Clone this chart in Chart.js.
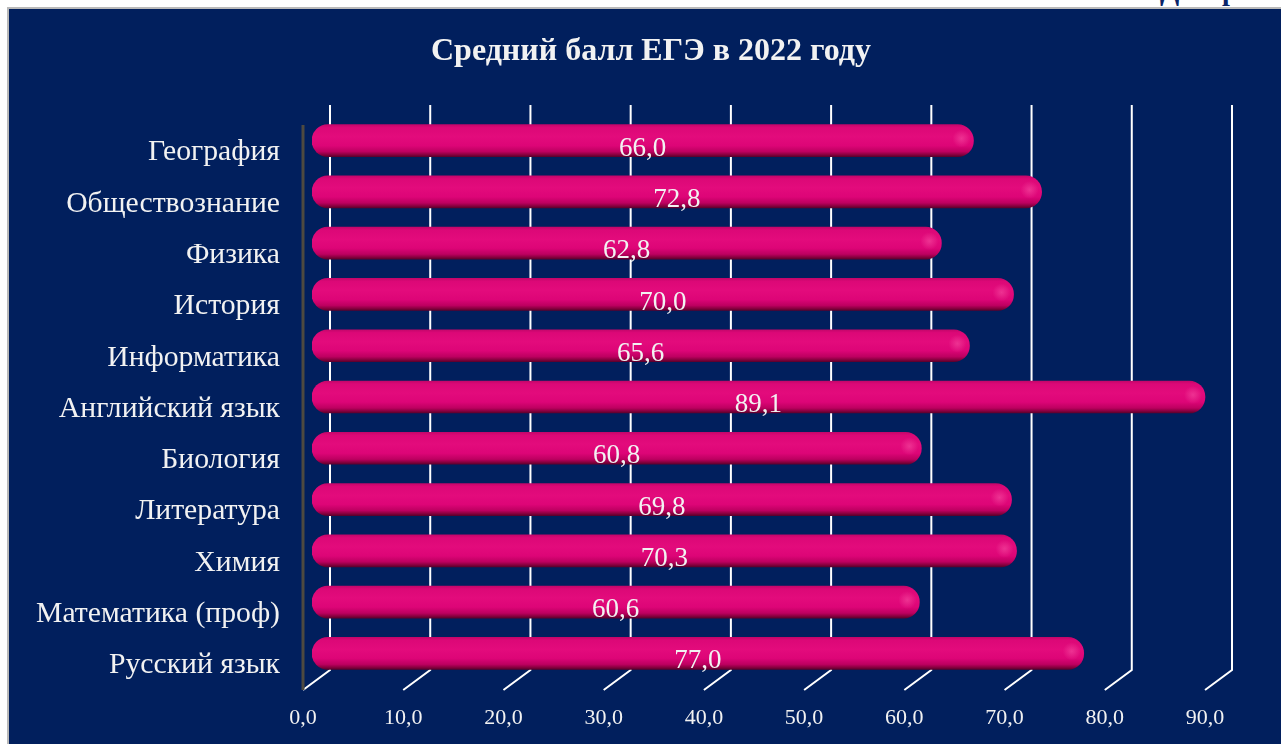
<!DOCTYPE html>
<html lang="ru">
<head>
<meta charset="utf-8">
<title>Средний балл ЕГЭ в 2022 году</title>
<script src="https://cdn.jsdelivr.net/npm/chart.js@4"></script>
<style>
  html, body { margin: 0; padding: 0; background: #fff; width: 1281px; height: 744px; overflow: hidden; }
  #caption { position: absolute; left: 1160px; top: -25px; line-height: 28px; font: bold 28px "Liberation Serif", serif; color: #0a2468; white-space: nowrap; }
  #panel { position: absolute; left: 7px; top: 7px; width: 1280px; height: 745px; background: #011f5d; border-top: 2px solid #b9b9b9; border-left: 2px solid #b9b9b9; }
  #title { position: absolute; left: 351px; width: 600px; top: 31px; text-align: center; font: bold 32px "Liberation Serif", serif; color: #f2f2f2; white-space: nowrap; }
  #chart { position: absolute; left: 0; top: 0; }
</style>
</head>
<body>
<div id="caption">Диаграмма</div>
<div id="panel"></div>
<canvas id="chart" width="1281" height="744"></canvas>
<div id="title">Средний балл ЕГЭ в 2022 году</div>
<script>
// Subjects, top to bottom
const subjects = ['География', 'Обществознание', 'Физика', 'История', 'Информатика',
    'Английский язык', 'Биология', 'Литература', 'Химия', 'Математика (проф)', 'Русский язык'];
// Average score per subject
const scores = [66.0, 72.8, 62.8, 70.0, 65.6, 89.1, 60.8, 69.8, 70.3, 60.6, 77.0];
// Axis range
const axisMin = 0;
const axisMax = 90;
const axisStep = 10;

const serif = '"Liberation Serif", "Times New Roman", serif';
const textColor = '#f2f2f2';

// 3d offsets of the back wall relative to the bar plane
const frontShift = -9;
const backShift = 18;
const floorBack = 670;
const floorFront = 690;
const gridTop = 105;

const fmt = v => Number(v).toFixed(1).replace('.', ',');

// cylinder shading, one band per bar
function barGradient(context) {
    const chart = context.chart;
    const area = chart.chartArea;
    const yScale = chart.scales.y;
    if (!area || !yScale) return '#e0067a';
    const g = chart.ctx.createLinearGradient(0, area.top, 0, area.bottom);
    const h = area.bottom - area.top;
    const half = 16;
    subjects.forEach((s, i) => {
        const c = yScale.getPixelForValue(i);
        const stop = (dy, col) => {
            const t = (c + dy - area.top) / h;
            if (t >= 0 && t <= 1) g.addColorStop(t, col);
        };
        stop(-half, '#c4066a');
        stop(-half + 3, '#dc0877');
        stop(-4, '#e30b7c');
        stop(5, '#dd0577');
        stop(11, '#bd0060');
        stop(half - 2, '#88003f');
        stop(half, '#5c002c');
    });
    return g;
}

// back wall grid lines, floor diagonals and the left wall edge
const wallGrid = {
    id: 'wallGrid',
    beforeDatasetsDraw(chart) {
        const ctx = chart.ctx;
        const x = chart.scales.x;
        ctx.save();
        ctx.strokeStyle = '#ffffff';
        ctx.lineWidth = 2;
        for (let v = axisMin; v <= axisMax; v += axisStep) {
            const px = x.getPixelForValue(v);
            ctx.beginPath();
            ctx.moveTo(px + backShift, gridTop);
            ctx.lineTo(px + backShift, floorBack);
            ctx.lineTo(px + frontShift, floorFront);
            ctx.stroke();
        }
        ctx.strokeStyle = '#4e4a40';
        ctx.lineWidth = 3;
        ctx.beginPath();
        ctx.moveTo(x.getPixelForValue(axisMin) + frontShift, 125);
        ctx.lineTo(x.getPixelForValue(axisMin) + frontShift, floorFront);
        ctx.stroke();
        ctx.restore();
    }
};

// value labels in the middle of each bar, plus a soft highlight on the bar caps
const barValues = {
    id: 'barValues',
    afterDatasetsDraw(chart) {
        const ctx = chart.ctx;
        const meta = chart.getDatasetMeta(0);
        ctx.save();
        meta.data.forEach((bar, i) => {
            const hx = bar.x - 12, hy = bar.y - 2;
            const rg = ctx.createRadialGradient(hx, hy, 0, hx, hy, 9);
            rg.addColorStop(0, 'rgba(255,110,180,0.4)');
            rg.addColorStop(1, 'rgba(255,110,180,0)');
            ctx.fillStyle = rg;
            ctx.fillRect(hx - 9, hy - 9, 18, 18);

            ctx.fillStyle = textColor;
            ctx.font = '27px ' + serif;
            ctx.textAlign = 'center';
            ctx.textBaseline = 'middle';
            ctx.fillText(fmt(scores[i]), (bar.x + bar.base) / 2, bar.y + 8);
        });
        ctx.restore();
    }
};

const ctx = document.getElementById('chart').getContext('2d');
const myChart = new Chart(ctx, {
    type: 'bar',
    data: {
        labels: subjects,
        datasets: [{
            label: 'Средний балл',
            data: scores,
            backgroundColor: barGradient,
            borderRadius: 16,
            borderSkipped: false,
            barThickness: 32
        }]
    },
    plugins: [wallGrid, barValues],
    options: {
        responsive: false,
        animation: false,
        indexAxis: 'y',
        layout: { padding: { left: 0, right: 67, top: 115, bottom: 0 } },
        scales: {
            x: {
                min: axisMin,
                max: axisMax,
                ticks: {
                    stepSize: axisStep,
                    callback: v => fmt(v),
                    color: textColor,
                    font: { family: serif, size: 22 },
                    labelOffset: frontShift,
                    padding: 26,
                    maxRotation: 0
                },
                grid: { display: false, drawTicks: false },
                border: { display: false },
                afterFit: s => { s.height = 65; }
            },
            y: {
                ticks: {
                    color: textColor,
                    font: { family: serif, size: 29.7 },
                    padding: 32,
                    labelOffset: 12
                },
                grid: { display: false, drawTicks: false },
                border: { display: false },
                afterFit: s => { s.width = 312; }
            }
        },
        plugins: {
            legend: { display: false },
            tooltip: { enabled: false },
            title: { display: false }
        }
    }
});
</script>
</body>
</html>
